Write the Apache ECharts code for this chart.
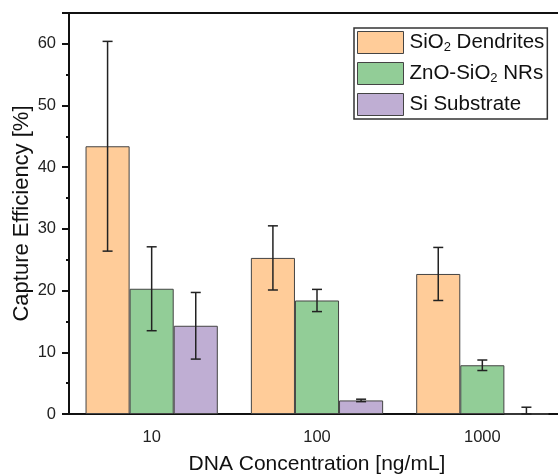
<!DOCTYPE html>
<html>
<head>
<meta charset="utf-8">
<script src="https://cdn.jsdelivr.net/npm/echarts@6/dist/echarts.min.js"></script>
<style>
  html, body { margin: 0; padding: 0; background: #fff; }
  #chart { width: 558px; height: 476px; }
</style>
</head>
<body>
<div id="chart"></div>
<script>
// data
const categories = ['10', '100', '1000'];
const seriesNames = ['SiO2 Dendrites', 'ZnO-SiO2 NRs', 'Si Substrate'];
const dendrites = [43.4, 25.3, 22.7];
const dendritesErr = [17.0, 5.2, 4.3];
const nanorods = [20.3, 18.4, 7.9];
const nanorodsErr = [6.8, 1.8, 0.85];
const substrate = [14.3, 2.2, 0];
const substrateErr = [5.4, 0.2, 1.1];

const colors = ['#FFCC99', '#92CD97', '#BFAED3'];
const values = [dendrites, nanorods, substrate];
const errors = [dendritesErr, nanorodsErr, substrateErr];

const font = 'Liberation Sans, Arial, sans-serif';
const BAR_GAP = '20%';

let chart = echarts.init(document.getElementById('chart'));

// error bars drawn on top of the grouped bars
function errorSeries(idx) {
  let data = categories.map((c, i) => [i, values[idx][i], errors[idx][i]]);
  return {
    type: 'custom',
    name: seriesNames[idx] + ' err',
    z: 10,
    data: data,
    renderItem: function (params, api) {
      let i = api.value(0);
      let v = api.value(1);
      let e = api.value(2);
      let band = api.size([1, 0])[0];
      let barW = band * 0.8 / 3;
      let cx = api.coord([i, 0])[0] + (idx - 1) * barW;
      let top = api.coord([i, v + e])[1];
      let bot = api.coord([i, Math.max(0, v - e)])[1];
      let half = 5;
      let style = { stroke: '#222', lineWidth: 1.5 };
      return {
        type: 'group',
        children: [
          { type: 'line', shape: { x1: cx, y1: top, x2: cx, y2: bot }, style: style },
          { type: 'line', shape: { x1: cx - half, y1: top, x2: cx + half, y2: top }, style: style },
          { type: 'line', shape: { x1: cx - half, y1: bot, x2: cx + half, y2: bot }, style: style }
        ]
      };
    }
  };
}

let barSeries = values.map((vals, k) => ({
  type: 'bar',
  name: seriesNames[k],
  data: vals,
  barGap: '0%',
  barCategoryGap: BAR_GAP,
  itemStyle: { color: colors[k], borderColor: '#444', borderWidth: 1 }
}));

let legendRich = {
  t: { fontSize: 20.5, fontFamily: font, color: '#111', lineHeight: 22 },
  s: { fontSize: 13, fontFamily: font, color: '#111', lineHeight: 22, verticalAlign: 'bottom', padding: [9, 0, 0, 0] }
};

let option = {
  animation: false,
  grid: { left: 69, top: 13, width: 496, height: 401, outerBoundsMode: 'none', containLabel: false },
  legend: {
    data: seriesNames,
    left: 354,
    top: 28,
    orient: 'vertical',
    icon: 'rect',
    itemWidth: 46,
    itemHeight: 22,
    itemGap: 8,
    padding: [3, 3, 3, 3],
    borderColor: '#333',
    borderWidth: 1.5,
    itemStyle: { borderColor: '#444', borderWidth: 1 },
    textStyle: { rich: legendRich, padding: [0, 0, 0, 1] },
    formatter: function (name) {
      if (name === 'SiO2 Dendrites') return '{t|SiO}{s|2}{t| Dendrites}';
      if (name === 'ZnO-SiO2 NRs') return '{t|ZnO-SiO}{s|2}{t| NRs}';
      return '{t|' + name + '}';
    }
  },
  xAxis: [
    {
      type: 'category',
      data: categories,
      name: 'DNA Concentration [ng/mL]',
      nameLocation: 'middle',
      nameGap: 40,
      nameMoveOverlap: false,
      nameTextStyle: { fontSize: 21, fontFamily: font, color: '#111' },
      axisLine: { lineStyle: { color: '#111', width: 2 } },
      axisTick: { alignWithLabel: true, length: 6, lineStyle: { color: '#111', width: 2 } },
      axisLabel: { fontSize: 16.5, fontFamily: font, color: '#222', margin: 15 }
    },
    {
      type: 'category',
      data: categories,
      position: 'top',
      axisLine: { lineStyle: { color: '#111', width: 2 } },
      axisTick: { inside: true, alignWithLabel: true, length: 7, lineStyle: { color: '#111', width: 2 } },
      axisLabel: { show: false }
    }
  ],
  yAxis: {
    type: 'value',
    min: 0,
    max: 65,
    interval: 10,
    name: 'Capture Efficiency [%]',
    nameLocation: 'middle',
    nameGap: 36,
    nameMoveOverlap: false,
    nameTextStyle: { fontSize: 22, fontFamily: font, color: '#111' },
    axisLine: { show: true, lineStyle: { color: '#111', width: 2 } },
    axisTick: { show: true, length: 7, lineStyle: { color: '#111', width: 2 } },
    minorTick: { show: true, splitNumber: 2, length: 3, lineStyle: { color: '#111', width: 2 } },
    splitLine: { show: false },
    axisLabel: { fontSize: 16.5, fontFamily: font, color: '#222', margin: 13,
      formatter: function (v) { return v % 10 === 0 ? v : ''; } }
  },
  series: barSeries.concat([0, 1, 2].map(errorSeries))
};

chart.setOption(option);
</script>
</body>
</html>
